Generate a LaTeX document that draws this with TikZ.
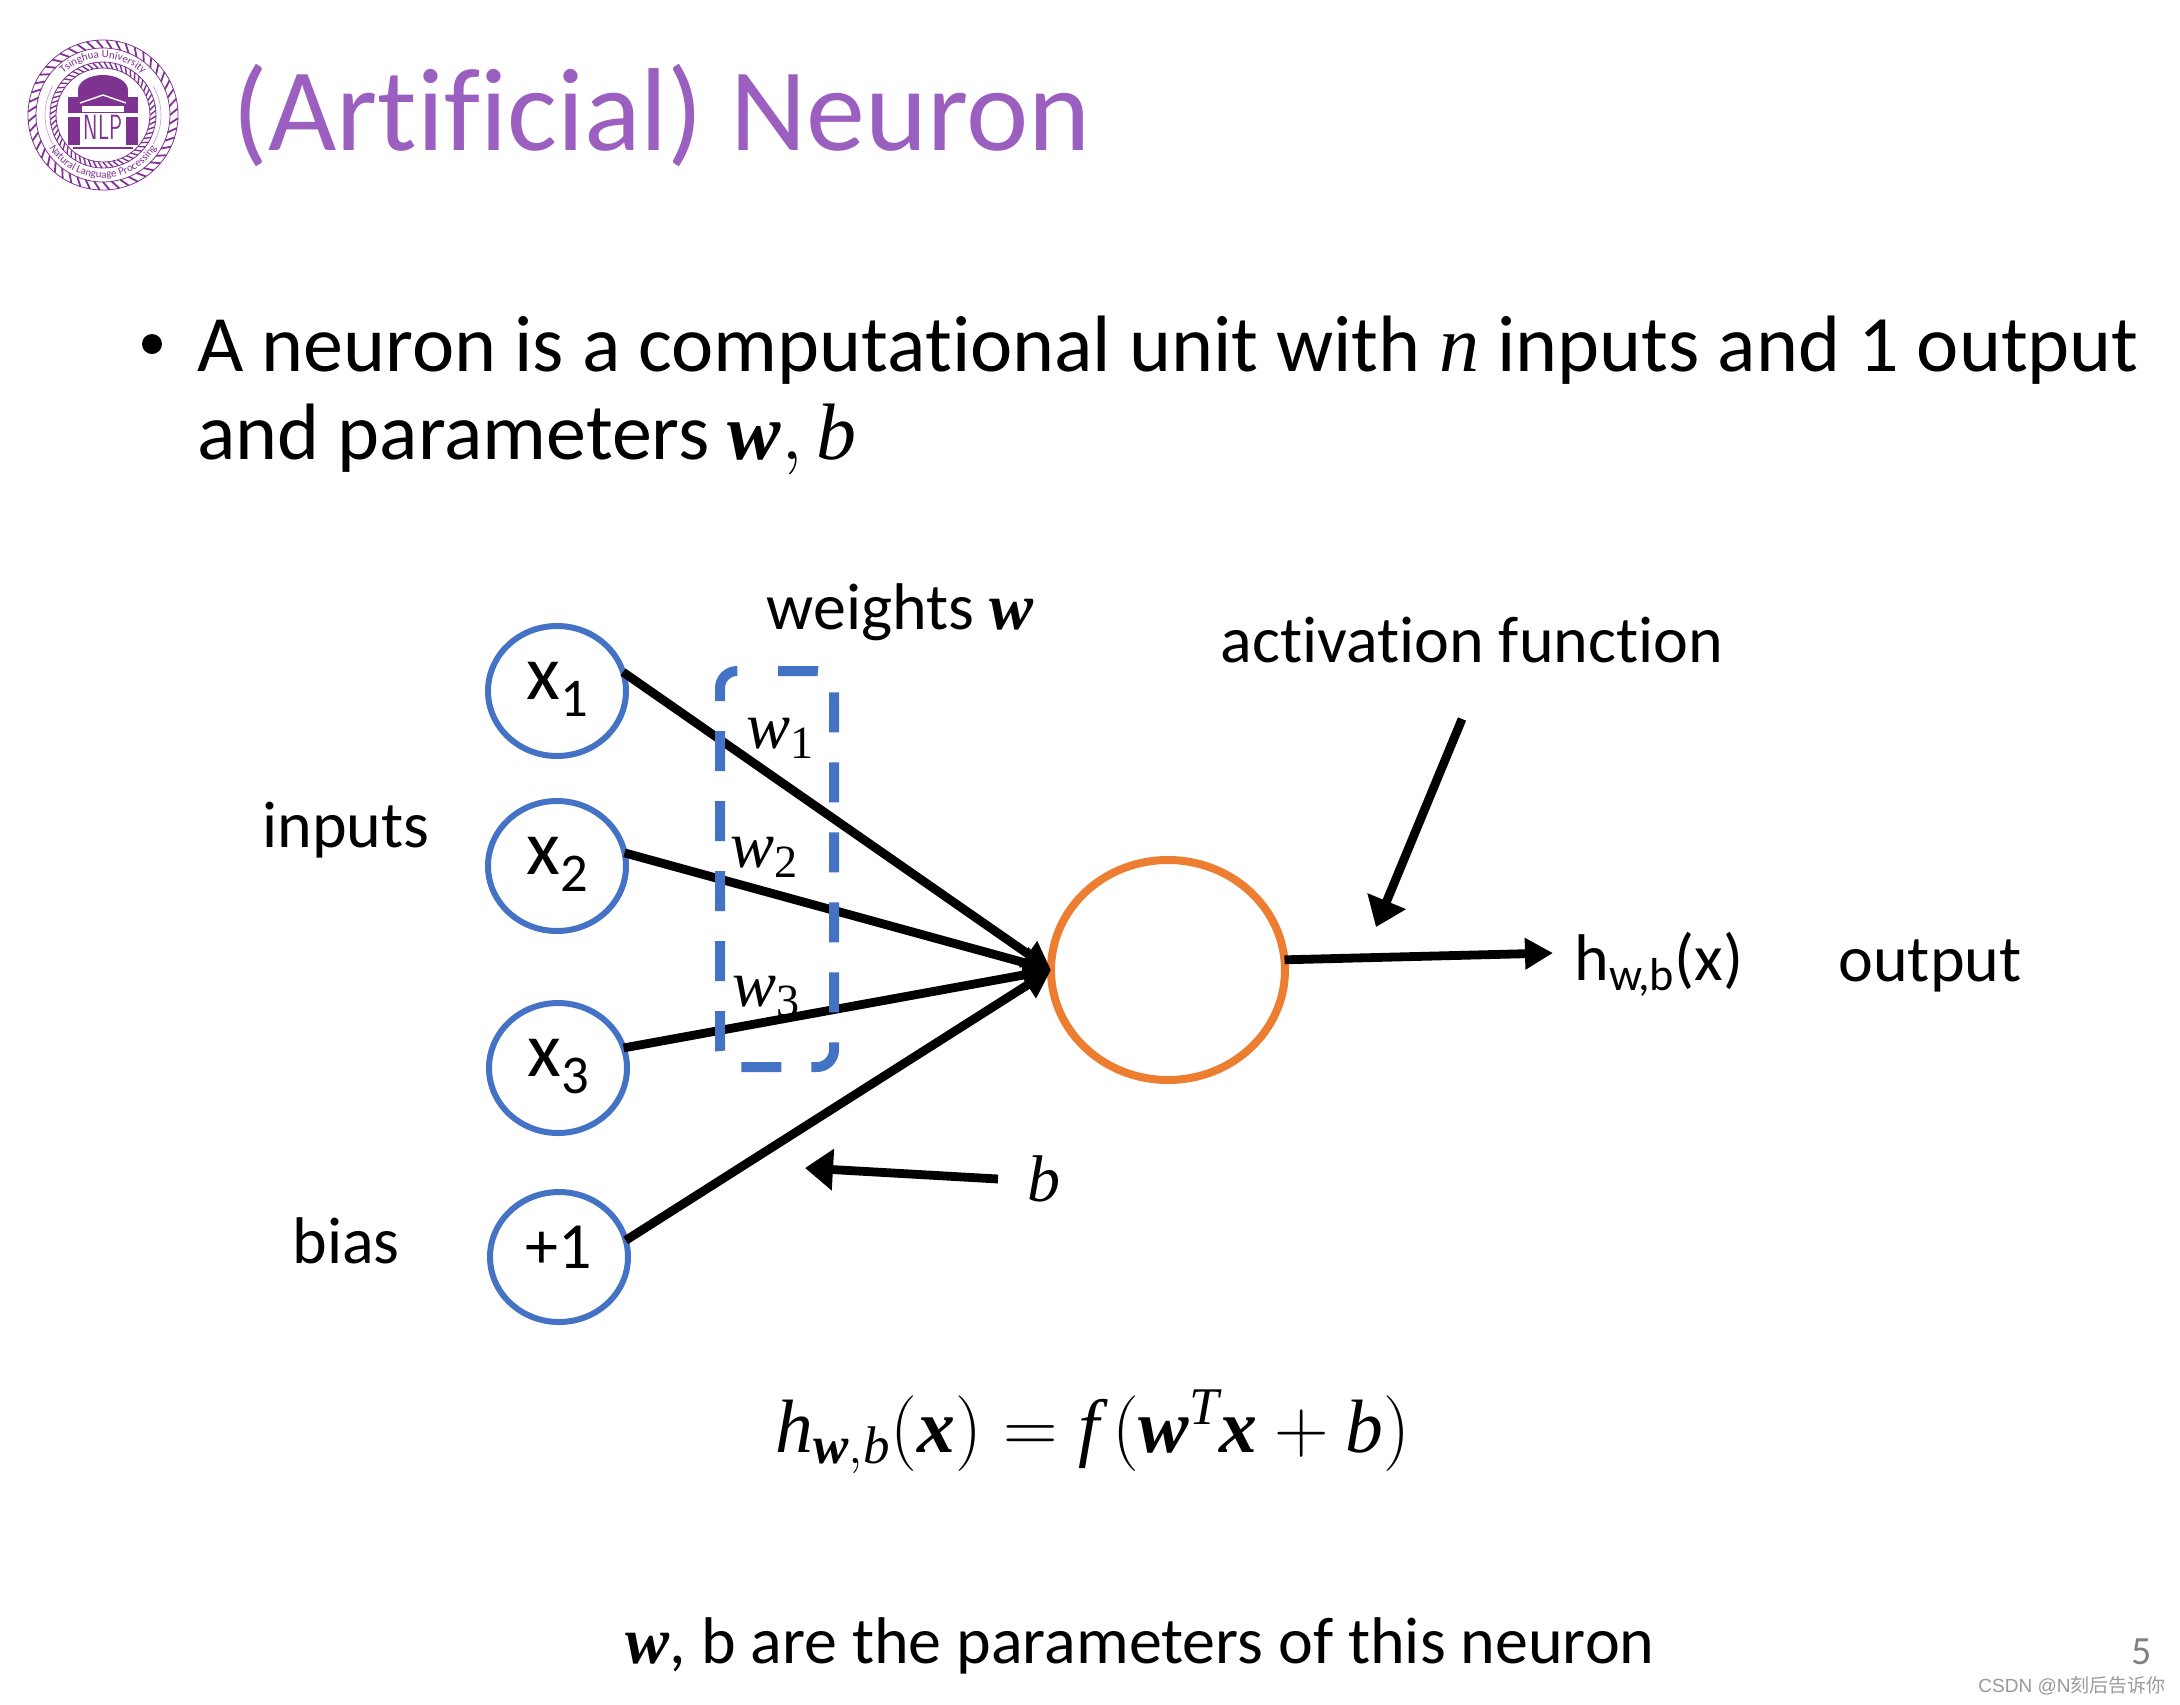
\RequirePackage{fix-cm}
\documentclass[tikz,border=0pt]{standalone}
\usepackage{amsmath}
\usepackage{bm}
\usepackage{fontspec}
\setmainfont{Carlito}[Ligatures=NoCommon]
\newfontfamily\marksans{Liberation Sans}
\newfontfamily\markcjk{Noto Sans CJK SC}
\newfontfamily\symserif{Liberation Serif}
\usetikzlibrary{arrows.meta,shapes.geometric,decorations.text}
\definecolor{slidepurple}{HTML}{9B5FC0}
\definecolor{logopurple}{HTML}{7F3391}
\definecolor{nodeblue}{HTML}{4472C4}
\definecolor{nodeorange}{HTML}{ED7D31}
\newcommand{\textsz}[1]{\fontsize{#1}{#1}\selectfont}
\newcommand{\mvar}[1]{\text{\symserif\itshape #1}}
\newcommand{\mbvar}[1]{\text{\symserif\bfseries\itshape #1}}
\newcommand{\mnum}[1]{\text{\symserif #1}}
\tikzset{
  unit/.style={draw=nodeblue, ellipse, line width=3pt, minimum width=69pt, minimum height=65pt, inner sep=0pt, outer sep=0pt, text height=18pt, text depth=4pt},
  label/.style={inner sep=0pt, font=\textsz{33}},
  wirehead/.style={line width=4.4pt, -{Stealth[inset=0pt,length=14pt,width=15pt]}},
  callout/.style={line width=4.4pt, -{Stealth[inset=0pt,length=14pt,width=20pt]}},
}
\begin{document}
\begin{tikzpicture}[x=0.5pt,y=-0.5pt]
\useasboundingbox (0,0) rectangle (2180,1704);
% logo
\begin{scope}[shift={(103,115)},x=0.5pt,y=0.5pt,logopurple]
\draw[line width=0.4pt] (0,0) circle[radius=37.5pt];
\draw[line width=0.4pt] (0,0) circle[radius=33.5pt];
\draw[line width=0.4pt] (0,0) circle[radius=26.5pt];
\draw[line width=0.4pt] (0,0) circle[radius=23.5pt];
\foreach \a in {0,7.5,...,352.5} {
  \draw[line width=0.9pt] (\a:67) -- (\a+5:75);
}
\foreach \a in {0,6,...,354} {
  \draw[line width=0.7pt] (\a:47) -- (\a+5:53);
}
\fill (-25,25) arc[start angle=180,end angle=0,x radius=25,y radius=15] -- cycle;
\fill (-25,25) rectangle (25,15);
\fill (-35,18) rectangle (35,2);
\fill (-35,-2) rectangle (-23,-30);
\fill (23,-2) rectangle (35,-30);
\fill (-30,-32) rectangle (30,-34);
\fill[white] (-21,9) rectangle (21,3);
\draw[white,line width=0.7pt] (-23,12) -- (0,20) -- (23,12);
\node[inner sep=0pt,font=\sffamily\textsz{14}] (logotext) at (0,-12) {\scalebox{0.75}[1.25]{NLP}};
\draw[line width=0.3pt,logopurple!50] (150:58) arc[start angle=150,end angle=210,radius=58];
\draw[line width=0.3pt,logopurple!50] (30:58) arc[start angle=30,end angle=-30,radius=58];
\path[postaction={decorate,decoration={text along path,text align=center,
  text={|\textsz{5.5}\color{logopurple}|Tsinghua University}}}] (150:57) arc[start angle=150,end angle=30,radius=57];
\path[postaction={decorate,decoration={text along path,text align=center,
  text={|\textsz{5.5}\color{logopurple}|Natural Language Processing}}}] (200:63) arc[start angle=200,end angle=340,radius=63];
\end{scope}
% title and bullet
\node[anchor=base west,inner sep=0pt,text=slidepurple,font=\textsz{59}] (title) at (232,150) {(Artificial) Neuron};
\fill (152,344) circle[radius=5pt];
\node[anchor=base west,inner sep=0pt,font=\textsz{40}] (lineone) at (197,371) {A neuron is a computational unit with $\mvar{n}$ inputs and 1 output};
\node[anchor=base west,inner sep=0pt,font=\textsz{40}] (linetwo) at (197,459) {and parameters $\mbvar{w},\mvar{b}$};
% nodes
\node[unit,font=\textsz{39}] (x1) at (557,691) {\hspace{1pt}\raisebox{3pt}{x}\textsubscript{1}};
\node[unit,font=\textsz{39}] (x2) at (557,866) {\hspace{1pt}\raisebox{3pt}{x}\textsubscript{2}};
\node[unit,font=\textsz{39}] (x3) at (558,1068) {\hspace{1pt}\raisebox{3pt}{x}\textsubscript{3}};
\node[unit,font=\textsz{33}] (bias) at (559,1257) {\raisebox{1.5pt}{+1}};
\node[draw=nodeorange,ellipse,line width=4pt,minimum width=117pt,minimum height=110pt,inner sep=0pt,outer sep=0pt] (neuron) at (1168,970) {};
\node[label] (inputs) at (346,830) {inputs};
\node[label] (biaslabel) at (346,1241) {bias};
\node[label] (weights) at (900,612) {weights $\mbvar{w}$};
\node[label] (activation) at (1472,640) {activation function};
\node[label] (hout) at (1659,964) {h\textsubscript{w,b}(x)};
\node[label] (output) at (1930,966) {output};
\node[label] (blabel) at (1044,1179) {$\mvar{b}$};
\node[label] (w1) at (781,738) {$\mvar{w}_{\mnum{1}}$};
\node[label] (w2) at (765,857) {$\mvar{w}_{\mnum{2}}$};
\node[label] (w3) at (767,997) {$\mvar{w}_{\mnum{3}}$};
% connectors
\coordinate (outend) at (1553,953);
\coordinate (actstart) at (1462,719);
\coordinate (actend) at (1376,927);
\coordinate (bstart) at (998,1179);
\coordinate (bend) at (805,1168);
\draw[wirehead] (x1.16) -- (neuron.west);
\draw[wirehead] (x2.11) -- (neuron.west);
\draw[wirehead] (x3.17) -- (neuron.west);
\draw[wirehead] (bias.14) -- (neuron.west);
\draw[wirehead] (neuron.5) -- (outend);
\draw[callout] (actstart) -- (actend);
\draw[callout] (bstart) -- (bend);
\draw[draw=nodeblue,line width=5pt,rounded corners=8.5pt,dash pattern=on 20pt off 15pt]
  (778,671) -- (834,671) -- (834,1067) -- (720,1067) -- (720,671) -- (750,671);
% formula and footer
\node[inner sep=0pt,font=\textsz{37.8}] (formula) at (1093,1432) {$\mvar{h}_{\mbvar{w},\mvar{b}}(\mbvar{x})=\mvar{f}\,(\mbvar{w}^{\mvar{T}}\mbvar{x}+\mvar{b})$};
\node[anchor=base,inner sep=0pt,font=\textsz{33}] (params) at (1140,1663) {$\mbvar{w}$, b are the parameters of this neuron};
\node[inner sep=0pt,text=black!50,font=\textsz{20}] (pageno) at (2142,1652) {5};
\node[inner sep=0pt,text=black!40,font=\textsz{9.5}] (mark) at (2072,1686) {\marksans CSDN @N\markcjk 刻后告诉你};
\end{tikzpicture}
\end{document}
